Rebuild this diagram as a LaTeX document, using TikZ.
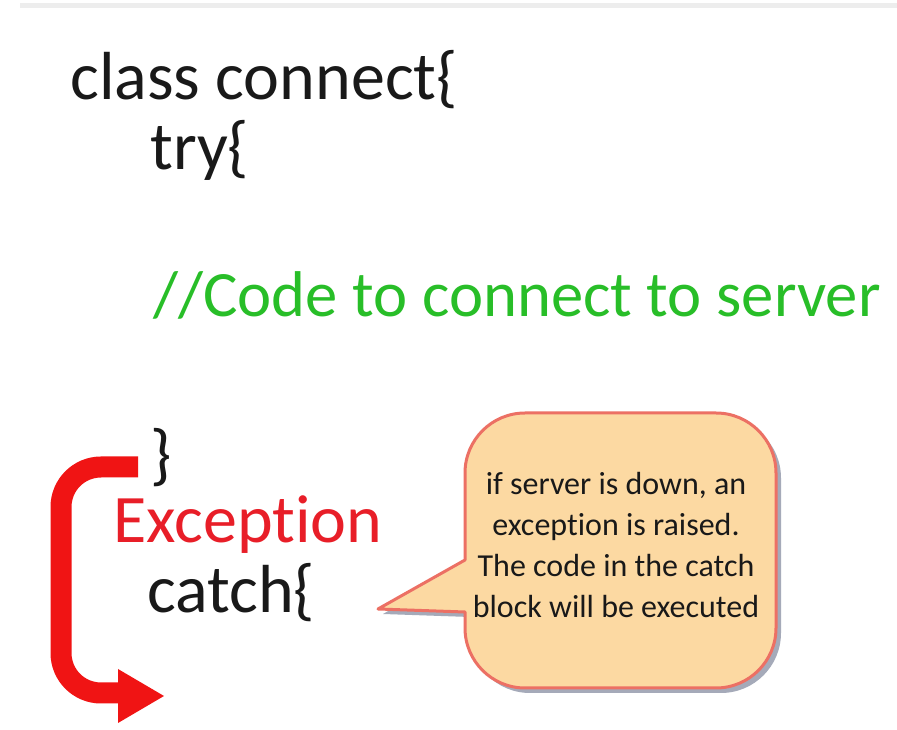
\documentclass[tikz,border=0pt]{standalone}
\usepackage{fontspec}
\setmainfont{Carlito}[Ligatures=NoCommon]
\usetikzlibrary{arrows.meta}
\definecolor{codegreen}{RGB}{40,190,40}
\definecolor{excred}{RGB}{232,30,40}
\definecolor{arrowred}{RGB}{240,20,20}
\definecolor{calloutfill}{RGB}{252,217,162}
\definecolor{calloutborder}{RGB}{236,112,100}
\definecolor{shadowgrey}{RGB}{165,170,185}
\definecolor{textdark}{RGB}{25,25,25}
\tikzset{
  codetext/.style={anchor=base west, inner sep=0pt, text=textdark, font=\fontsize{51}{60}\selectfont},
  greentext/.style={anchor=base west, inner sep=0pt, text=codegreen, font=\fontsize{48.5}{58}\selectfont},
  redtext/.style={anchor=base west, inner sep=0pt, text=excred, font=\fontsize{51}{60}\selectfont},
  callouttextstyle/.style={align=center, inner sep=0pt, text=textdark, font=\fontsize{24}{30.75}\selectfont},
  bubble/.style={fill=calloutfill, draw=calloutborder, line width=2.25pt, line join=round},
  bubbleshadow/.style={fill=shadowgrey, draw=none},
  jumparrow/.style={draw=arrowred, line width=15.75pt, rounded corners=30}
}
\begin{document}
\begin{tikzpicture}[x=0.75pt, y=-0.75pt]
\useasboundingbox (0,0) rectangle (897,730);
\clip (0,0) rectangle (897,730);
\fill[white] (0,0) rectangle (897,730);
% faint top rule
\fill[black!7] (20,3) rectangle (897,8);

% code text
\node[codetext] (classline) at (70,100) {class connect\{};
\node[codetext] (tryline) at (150,170) {try\{};
\node[greentext] (comment) at (153,317) {//Code to connect to server};
\node[codetext] (closebrace) at (150,478) {\}};
\node[redtext] (exception) at (113,543) {Exception};
\node[codetext] (catchline) at (147,613) {catch\{};

% red jump arrow
\coordinate (arrowstart) at (138,467);
\coordinate (arrowend) at (122,693);
\draw[jumparrow] (arrowstart) -- (61,467) -- (61,693) -- (arrowend);
\fill[arrowred] (118,669) -- (164,696) -- (118,723) -- cycle;

% callout bubble
\begin{scope}[shift={(5,5)}]
\fill[bubbleshadow] (465,560) -- (378,609) -- (465,612) [rounded corners=45] -- (465,688) -- (776,688) -- (776,413) -- (465,413) [sharp corners] -- (465,560) -- cycle;
\end{scope}
\path[bubble] (465,560) -- (378,609) -- (465,612) [rounded corners=45] -- (465,688) -- (776,688) -- (776,413) -- (465,413) [sharp corners] -- (465,560) -- cycle;
\node[callouttextstyle] (callouttext) at (616,545) {if server is down, an\\exception is raised.\\The code in the catch\\block will be executed};
\end{tikzpicture}
\end{document}
